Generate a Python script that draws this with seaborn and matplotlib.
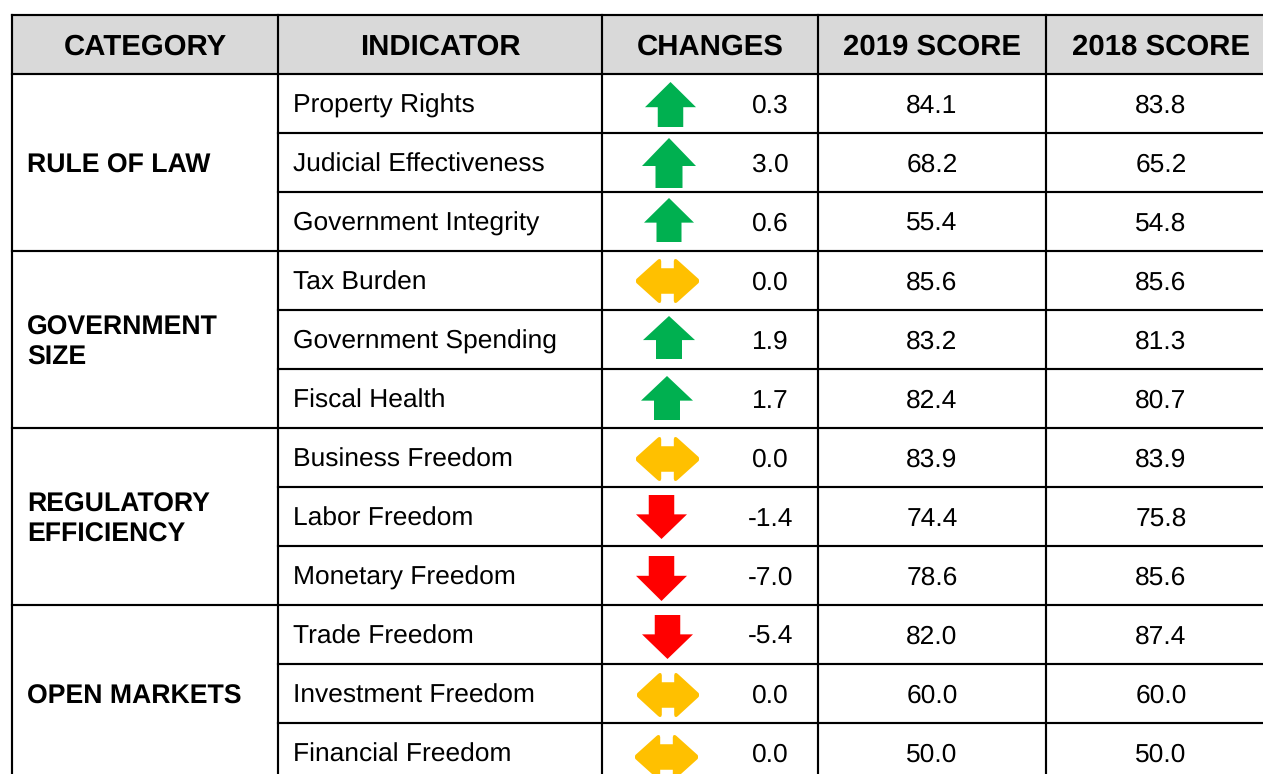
import matplotlib
matplotlib.use("Agg")
import matplotlib.pyplot as plt
import pandas as pd
import seaborn as sns
from matplotlib.path import Path

# ---- data ----
headers = ["CATEGORY", "INDICATOR", "CHANGES", "2019 SCORE", "2018 SCORE"]
categories = ["RULE OF LAW", "GOVERNMENT\nSIZE", "REGULATORY\nEFFICIENCY", "OPEN MARKETS"]
indicators = ["Property Rights", "Judicial Effectiveness", "Government Integrity",
              "Tax Burden", "Government Spending", "Fiscal Health",
              "Business Freedom", "Labor Freedom", "Monetary Freedom",
              "Trade Freedom", "Investment Freedom", "Financial Freedom"]
changes = ["0.3", "3.0", "0.6", "0.0", "1.9", "1.7", "0.0", "-1.4", "-7.0", "-5.4", "0.0", "0.0"]
score_2019 = ["84.1", "68.2", "55.4", "85.6", "83.2", "82.4", "83.9", "74.4", "78.6", "82.0", "60.0", "50.0"]
score_2018 = ["83.8", "65.2", "54.8", "85.6", "81.3", "80.7", "83.9", "75.8", "85.6", "87.4", "60.0", "50.0"]

# ---- layout (pixels) ----
W, H = 1263, 774
col_edges = [12, 278, 602, 818, 1046, 1276]
table_top, header_bottom, row_h = 15, 73.5, 59.0
group_size = 3
# per-row arrow extents: left, right, top, bottom
arrow_boxes = [(645, 696, 82, 127), (642, 696, 138, 188), (644, 694, 198, 242),
               (636, 699, 259, 303), (643, 695, 316, 359), (641, 693, 376, 420),
               (636, 699, 437, 481), (636, 687, 495, 539), (636, 687, 556, 601),
               (642, 693, 615, 659), (637, 699, 673, 717), (635, 698, 735, 779)]
colors = {"up": "#00B050", "down": "#FF0000", "flat": "#FFC000"}

sns.set_theme(style="white")
plt.rcParams["font.family"] = ["Liberation Sans", "DejaVu Sans"]
plt.rcParams["text.hinting"] = "no_hinting"

fig = plt.figure(figsize=(W / 100, H / 100), dpi=100)
ax = fig.add_axes([0, 0, 1, 1])


def arrow_marker(direction, w, h):
    if direction == "flat":
        n = 0.21 * h      # notch depth from the top edge
        hx = w / 2 - 0.40 * w  # head base, measured from the centre
        t, b = -h / 2, h / 2
        # upper half, left to right, with softened corners
        upper = [(-w/2, -1.2), (-w/2 + 0.6, -2.2), (-hx - 3.6, t + 0.9), (-hx - 2.2, t),
                 (-hx - 0.7, t + 0.2), (-hx, t + 2.0), (-hx, t + n),
                 (hx, t + n), (hx, t + 2.0), (hx + 0.7, t + 0.2), (hx + 2.2, t),
                 (hx + 3.6, t + 0.9), (w/2 - 0.6, -2.2), (w/2, -1.2)]
        pts = upper + [(x, -y) for x, y in reversed(upper)]
    else:
        sw = 0.25 * w     # half stem width
        head = 0.56 * h   # head length
        pts = [(0, h/2), (w/2, h/2-head), (sw, h/2-head), (sw, -h/2),
               (-sw, -h/2), (-sw, h/2-head), (-w/2, h/2-head)]
        if direction == "down":
            pts = [(x, -y) for x, y in pts]
    return Path(pts + [pts[0]], closed=True)


def direction_of(v):
    x = float(v)
    return "up" if x > 0 else "down" if x < 0 else "flat"


directions = [direction_of(v) for v in changes]
rows = pd.DataFrame({
    "indicator": indicators,
    "direction": directions,
    "x": [(b[0] + b[1]) / 2 for b in arrow_boxes],
    "y": [(b[2] + b[3]) / 2 for b in arrow_boxes],
})
markers = {ind: arrow_marker(d, b[1] - b[0], b[3] - b[2])
           for ind, d, b in zip(indicators, directions, arrow_boxes)}
sizes = {ind: (max(b[1] - b[0], b[3] - b[2]) * 0.72) ** 2
         for ind, b in zip(indicators, arrow_boxes)}

# header band
ax.fill_between([col_edges[0], col_edges[-1]], table_top, header_bottom,
                color="#D9D9D9", lw=0, zorder=0)

# arrows
sns.scatterplot(data=rows, x="x", y="y", hue="direction", palette=colors,
                style="indicator", markers=markers, size="indicator", sizes=sizes,
                linewidth=0, legend=False, ax=ax, zorder=2, clip_on=True)

ax.set_xlim(0, W)
ax.set_ylim(H, 0)
ax.set_axis_off()

# grid lines
line = dict(color="black", lw=1.55, zorder=3, solid_capstyle="projecting")
n = len(indicators)
bottom = header_bottom + row_h * n
for x in col_edges[:-1]:
    ax.plot([x, x], [table_top, bottom], **line)
ax.plot([col_edges[0], col_edges[-1]], [table_top, table_top], **line)
ax.plot([col_edges[0], col_edges[-1]], [header_bottom, header_bottom], **line)
for i in range(1, n + 1):
    y = header_bottom + row_h * i
    x0 = col_edges[0] if i % group_size == 0 else col_edges[1]
    ax.plot([x0, col_edges[-1]], [y, y], **line)

# header text
for j, label in enumerate(headers):
    ax.text((col_edges[j] + col_edges[j + 1]) / 2, 47, label, ha="center", va="center",
            fontsize=21.2, fontweight="bold", color="black")

# category text
for g, label in enumerate(categories):
    y = header_bottom + row_h * group_size * (g + 0.5) + 3.5
    ax.text(27, y, label, ha="left", va="center", fontsize=19.15, fontweight="bold",
            color="black", linespacing=1.27)

# body text
for i in range(n):
    y = header_bottom + row_h * (i + 0.5) + 3
    ax.text(293, y, indicators[i], ha="left", va="center", fontsize=19, color="black")
    ax.text(770.5, y, changes[i], ha="center", va="center", fontsize=19, color="black")
    ax.text(932, y, score_2019[i], ha="center", va="center", fontsize=19, color="black")
    ax.text(1161, y, score_2018[i], ha="center", va="center", fontsize=19, color="black")

fig.savefig("out.png", dpi=100, facecolor="white")
